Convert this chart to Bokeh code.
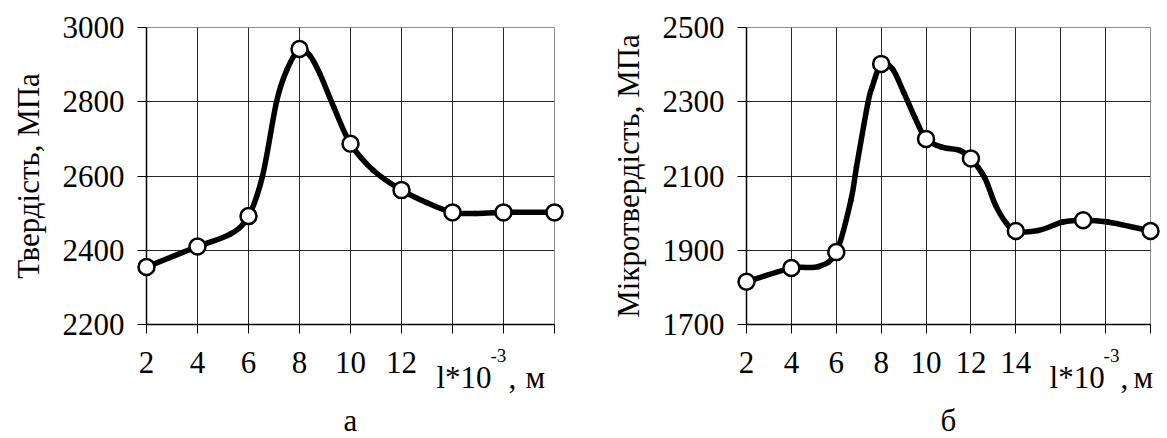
from bokeh.plotting import figure
from bokeh.layouts import row
from bokeh.models import FixedTicker, Range1d
from bokeh.core.properties import value
from bokeh.embed import file_html
from bokeh.resources import INLINE

# ---- panel "а": hardness ----
a_x_ticks = [2, 4, 6, 8, 10, 12, 14, 16, 18]
a_x_labels = {2: "2", 4: "4", 6: "6", 8: "8", 10: "10", 12: "12", 14: "", 16: "", 18: ""}
a_y_ticks = [2200, 2400, 2600, 2800, 3000]
a_marker_x = [2, 4, 6, 8, 10, 12, 14, 16, 18]
a_marker_y = [2355, 2410, 2492, 2942, 2687, 2562, 2502, 2502, 2502]
a_curve_x = [2, 4, 5.3, 6, 6.55, 7.1, 7.5, 8, 8.4, 8.8, 9.35, 10, 10.9, 12, 13, 14, 14.9, 16, 18]
a_curve_y = [2355, 2410, 2444, 2492, 2600, 2800, 2885, 2942, 2925, 2875, 2785, 2687, 2615, 2562, 2528, 2502, 2499, 2502, 2502]

# ---- panel "б": microhardness ----
b_x_ticks = [2, 4, 6, 8, 10, 12, 14, 16, 18, 20]
b_x_labels = {2: "2", 4: "4", 6: "6", 8: "8", 10: "10", 12: "12", 14: "14", 16: "", 18: "", 20: ""}
b_y_ticks = [1700, 1900, 2100, 2300, 2500]
b_marker_x = [2, 4, 6, 8, 10, 12, 14, 17, 20]
b_marker_y = [1815, 1852, 1895, 2402, 2200, 2147, 1952, 1981, 1952]
b_curve_x = [2, 4, 5.2, 6, 6.65, 6.9, 7.4, 7.6, 8, 8.5, 9.0, 9.5, 10, 10.7, 11.5, 12, 12.6, 13.1, 13.6, 14, 15, 16.1, 17, 18.1, 20]
b_curve_y = [1815, 1852, 1856, 1895, 2034, 2124, 2294, 2340, 2402, 2389, 2326, 2258, 2200, 2178, 2169, 2147, 2097, 2021, 1971, 1952, 1953, 1976, 1981, 1976, 1952]

# x-axis unit caption pieces: "l*10", superscript "-3", ",", "м"
unit_texts = ["l*10", "-3", ",", "м"]
unit_sizes = ["31px", "19px", "31px", "31px"]

FONT = "'Liberation Serif', 'Times New Roman', serif"
FS = "31px"


def smooth_segments(xs, ys):
    n = len(xs)
    out = dict(x0=[], y0=[], x1=[], y1=[], cx0=[], cy0=[], cx1=[], cy1=[])
    for i in range(n - 1):
        im = max(i - 1, 0)
        ip = min(i + 2, n - 1)
        out["x0"].append(xs[i]); out["y0"].append(ys[i])
        out["x1"].append(xs[i + 1]); out["y1"].append(ys[i + 1])
        out["cx0"].append(xs[i] + (xs[i + 1] - xs[im]) / 6.0)
        out["cy0"].append(ys[i] + (ys[i + 1] - ys[im]) / 6.0)
        out["cx1"].append(xs[i + 1] - (xs[ip] - xs[i]) / 6.0)
        out["cy1"].append(ys[i + 1] - (ys[ip] - ys[i]) / 6.0)
    return out


def make_panel(xr, yr, xt, xl, yt, ylabel, panel_label, cx, cy, mx, my,
               border_left, frame_w, border_right, unit_x, unit_dx):
    p = figure(x_range=Range1d(*xr), y_range=Range1d(*yr),
               frame_width=frame_w, frame_height=297,
               min_border_left=border_left, min_border_right=border_right,
               min_border_top=27, min_border_bottom=114,
               output_backend="svg", toolbar_location=None,
               background_fill_color="white", border_fill_color="white")
    p.outline_line_color = "#8c8c8c"
    p.outline_line_width = 1

    for ax in (p.xaxis[0], p.yaxis[0]):
        ax.axis_line_color = "black"
        ax.axis_line_width = 1.5
        ax.major_tick_line_color = "black"
        ax.major_tick_line_width = 1
        ax.major_tick_out = 9
        ax.major_tick_in = 0
        ax.minor_tick_line_color = None
        ax.major_label_text_font = FONT
        ax.major_label_text_font_size = FS
        ax.major_label_text_color = "black"
        ax.axis_label_text_font = FONT
        ax.axis_label_text_font_size = FS
        ax.axis_label_text_font_style = "normal"
        ax.axis_label_text_color = "black"

    p.xaxis[0].ticker = FixedTicker(ticks=xt)
    p.xaxis[0].major_label_overrides = xl
    p.xaxis[0].major_label_standoff = 18
    p.xaxis[0].axis_label = panel_label
    p.xaxis[0].axis_label_standoff = 27

    p.yaxis[0].ticker = FixedTicker(ticks=yt)
    p.yaxis[0].major_label_standoff = 13
    p.yaxis[0].axis_label = ylabel
    p.yaxis[0].axis_label_standoff = 14

    p.xgrid[0].ticker = FixedTicker(ticks=xt)
    p.ygrid[0].ticker = FixedTicker(ticks=yt)
    for g in (p.xgrid[0], p.ygrid[0]):
        g.grid_line_color = "black"
        g.grid_line_alpha = 0.85
        g.grid_line_width = 1

    seg = smooth_segments(cx, cy)
    p.bezier(x0=seg["x0"], y0=seg["y0"], x1=seg["x1"], y1=seg["y1"],
             cx0=seg["cx0"], cy0=seg["cy0"], cx1=seg["cx1"], cy1=seg["cy1"],
             line_color="black", line_width=5.5, line_cap="round")
    p.scatter(mx, my, size=16, fill_color="white", line_color="black",
              line_width=2.5, level="overlay")

    # unit caption under the x axis (text glyph, not clipped at overlay level)
    n = len(unit_texts)
    p.text(x=[unit_x] * n, y=[yr[0]] * n, text=unit_texts,
           x_offset=unit_dx, y_offset=[53, 31, 53, 53],
           text_font=value(FONT), text_font_size=unit_sizes,
           text_baseline="alphabetic", text_align="left",
           text_color="black", level="overlay")
    return p


p1 = make_panel((2, 18), (2200, 3000), a_x_ticks, a_x_labels, a_y_ticks,
                "Твердість, МПа", "а", a_curve_x, a_curve_y, a_marker_x, a_marker_y,
                146, 408, 26, 14, [-16, 38, 56, 73])
p2 = make_panel((2, 20), (1700, 2500), b_x_ticks, b_x_labels, b_y_ticks,
                "Мікротвердість, МПа", "б", b_curve_x, b_curve_y, b_marker_x, b_marker_y,
                166, 404, 17, 18, [-56, -2, 15, 28])

layout = row(p1, p2)
open("out.html", "w").write(file_html(layout, INLINE))
